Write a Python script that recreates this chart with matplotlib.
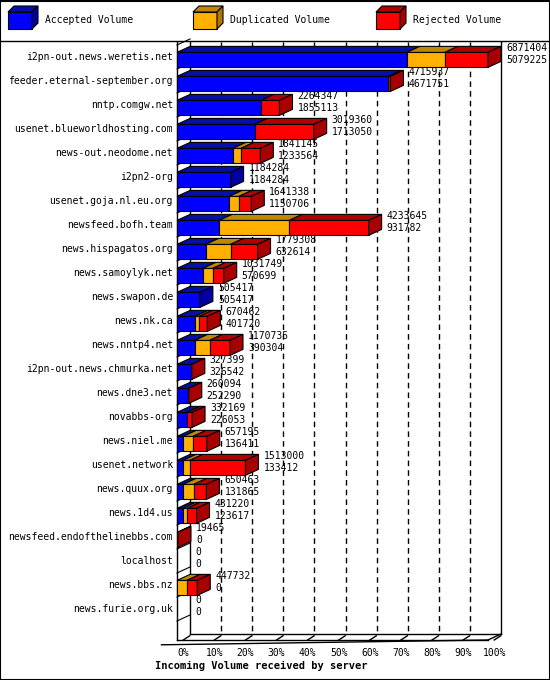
import matplotlib
matplotlib.use('Agg')
import matplotlib.pyplot as plt
from matplotlib.patches import Polygon, Rectangle

# data: total volume, accepted, duplicated (rejected = rest)
servers = ['i2pn-out.news.weretis.net', 'feeder.eternal-september.org', 'nntp.comgw.net',
           'usenet.blueworldhosting.com', 'news-out.neodome.net', 'i2pn2-org', 'usenet.goja.nl.eu.org',
           'newsfeed.bofh.team', 'news.hispagatos.org', 'news.samoylyk.net', 'news.swapon.de',
           'news.nk.ca', 'news.nntp4.net', 'i2pn-out.news.chmurka.net', 'news.dne3.net', 'novabbs-org',
           'news.niel.me', 'usenet.network', 'news.quux.org', 'news.1d4.us',
           'newsfeed.endofthelinebbs.com', 'localhost', 'news.bbs.nz', 'news.furie.org.uk']
total = [6871404, 4715937, 2264347, 3019360, 1841145, 1184284, 1641338, 4233645, 1779308, 1031749,
         505417, 670462, 1170735, 327399, 260094, 332169, 657195, 1513000, 650463, 431220,
         19465, 0, 447732, 0]
accepted = [5079225, 4671751, 1855113, 1713050, 1233564, 1184284, 1150706, 931782, 632614, 570699,
            505417, 401720, 390304, 326542, 252290, 226053, 136411, 133412, 131865, 123617,
            0, 0, 0, 0]
duplicated = [840000, 0, 0, 0, 180000, 0, 220000, 1550000, 550000, 220000,
              0, 90000, 330000, 0, 0, 0, 220000, 150000, 240000, 90000,
              0, 0, 220000, 0]
ticks = ['0%', '10%', '20%', '30%', '40%', '50%', '60%', '70%', '80%', '90%', '100%']

W, H = 550, 680
X0, XW = 177, 311      # front 0% pixel, 100% width
Y0, YS = 57, 24        # first row centre, row step
fig = plt.figure(figsize=(W / 100, H / 100), dpi=100)
ax = fig.add_axes([0, 0, 1, 1])
ax.set_xlim(-X0 / XW, (W - X0) / XW)
ax.set_ylim((H - Y0) / YS, -Y0 / YS)
ax.axis('off')

fx = lambda px: (px - X0) / XW
fy = lambda py: (py - Y0) / YS
dx, dy = 13 / XW, 6 / YS
h = 15 / YS
mono = 'DejaVu Sans Mono'
vmax = max(total)

colors = {'acc': ('#0000ff', '#0010a8', '#0000a0'),
          'dup': ('#ffb000', '#c08800', '#b07800'),
          'rej': ('#ff0000', '#b00000', '#a80000')}


def box(x0, x1, r, c, side):
    t, b = r - h / 2 + 0.12, r + h / 2 + 0.12
    ax.add_patch(Rectangle((x0, t), x1 - x0, b - t, fc=c[0], ec='black', lw=0.8, zorder=3))
    ax.add_patch(Polygon([(x0, t), (x1, t), (x1 + dx, t - dy), (x0 + dx, t - dy)],
                         fc=c[1], ec='black', lw=0.8, zorder=3))
    if side:
        ax.add_patch(Polygon([(x1, t), (x1 + dx, t - dy), (x1 + dx, b - dy), (x1, b)],
                             fc=c[2], ec='black', lw=0.8, zorder=3))


# walls, grid, floor
top, floor = fy(42), fy(640)
ax.plot([fx(0), fx(W)], [fy(41), fy(41)], color='black', lw=1)
ax.plot([0, 0], [top, floor], color='black', lw=1)
ax.plot([dx, dx], [top, floor - dy], color='black', lw=1)
ax.plot([1 + dx, 1 + dx], [top, floor - dy], color='black', lw=1)
for k in range(1, 10):
    ax.plot([k / 10 + dx] * 2, [top, floor - dy], color='black', lw=1, ls=(0, (4, 3)))
ax.plot([-0.05, 1], [floor + 0.2, floor], color='black', lw=1)
ax.plot([0, 1], [floor, floor], color='black', lw=1)
ax.plot([dx, 1 + dx], [floor - dy, floor - dy], color='black', lw=1)
ax.plot([1, 1 + dx], [floor, floor - dy], color='black', lw=1)
for i in range(len(servers) + 1):
    yb = i - 0.5
    ax.plot([0, dx], [yb, yb - dy], color='black', lw=0.8)
for k, lab in enumerate(ticks):
    ax.plot([k / 10 + 0.02, k / 10 + 0.02 + dx * 0.5], [floor, floor - dy * 0.7], color='black', lw=1)
    ax.text(k / 10 + 0.02, fy(653), lab, family=mono, fontsize=7, ha='center', va='center')
ax.text(fx(155), fy(666), 'Incoming Volume received by server', family=mono, fontsize=7.5,
        weight='bold', ha='left', va='center')

for r, name in enumerate(servers):
    ax.text(fx(173), r, name, family=mono, fontsize=7, ha='right', va='center')
    t, a, d = total[r], accepted[r], duplicated[r]
    segs = [('acc', a), ('dup', d), ('rej', t - a - d)]
    segs = [s for s in segs if s[1] > 0]
    x = 0
    for j, (k, v) in enumerate(segs):
        box(x, x + v / vmax, r, colors[k], j == len(segs) - 1)
        x += v / vmax
    lx = t / vmax + dx + 5 / XW
    ax.text(lx, r - 0.38, str(t), family=mono, fontsize=7, va='center', zorder=4)
    ax.text(lx, r + 0.12, str(a), family=mono, fontsize=7, va='center', zorder=4)

# legend
for (k, lab), px in zip([('acc', 'Accepted Volume'), ('dup', 'Duplicated Volume'),
                         ('rej', 'Rejected Volume')], [8, 193, 376]):
    c = colors[k]
    x0, x1 = fx(px), fx(px + 24)
    t, b = fy(12), fy(29)
    ax.add_patch(Rectangle((x0, t), x1 - x0, b - t, fc=c[0], ec='black', lw=0.8))
    ax.add_patch(Polygon([(x0, t), (x1, t), (x1 + 6 / XW, fy(6)), (x0 + 6 / XW, fy(6))],
                         fc=c[1], ec='black', lw=0.8))
    ax.add_patch(Polygon([(x1, t), (x1 + 6 / XW, fy(6)), (x1 + 6 / XW, fy(23)), (x1, b)],
                         fc=c[2], ec='black', lw=0.8))
    ax.text(fx(px + 37), fy(20), lab, family=mono, fontsize=7, va='center')

ax.add_patch(Rectangle((fx(0.5), fy(0.5)), 549 / XW, 679 / YS, fill=False, ec='black', lw=1.5))
fig.savefig('out.png', dpi=100)
